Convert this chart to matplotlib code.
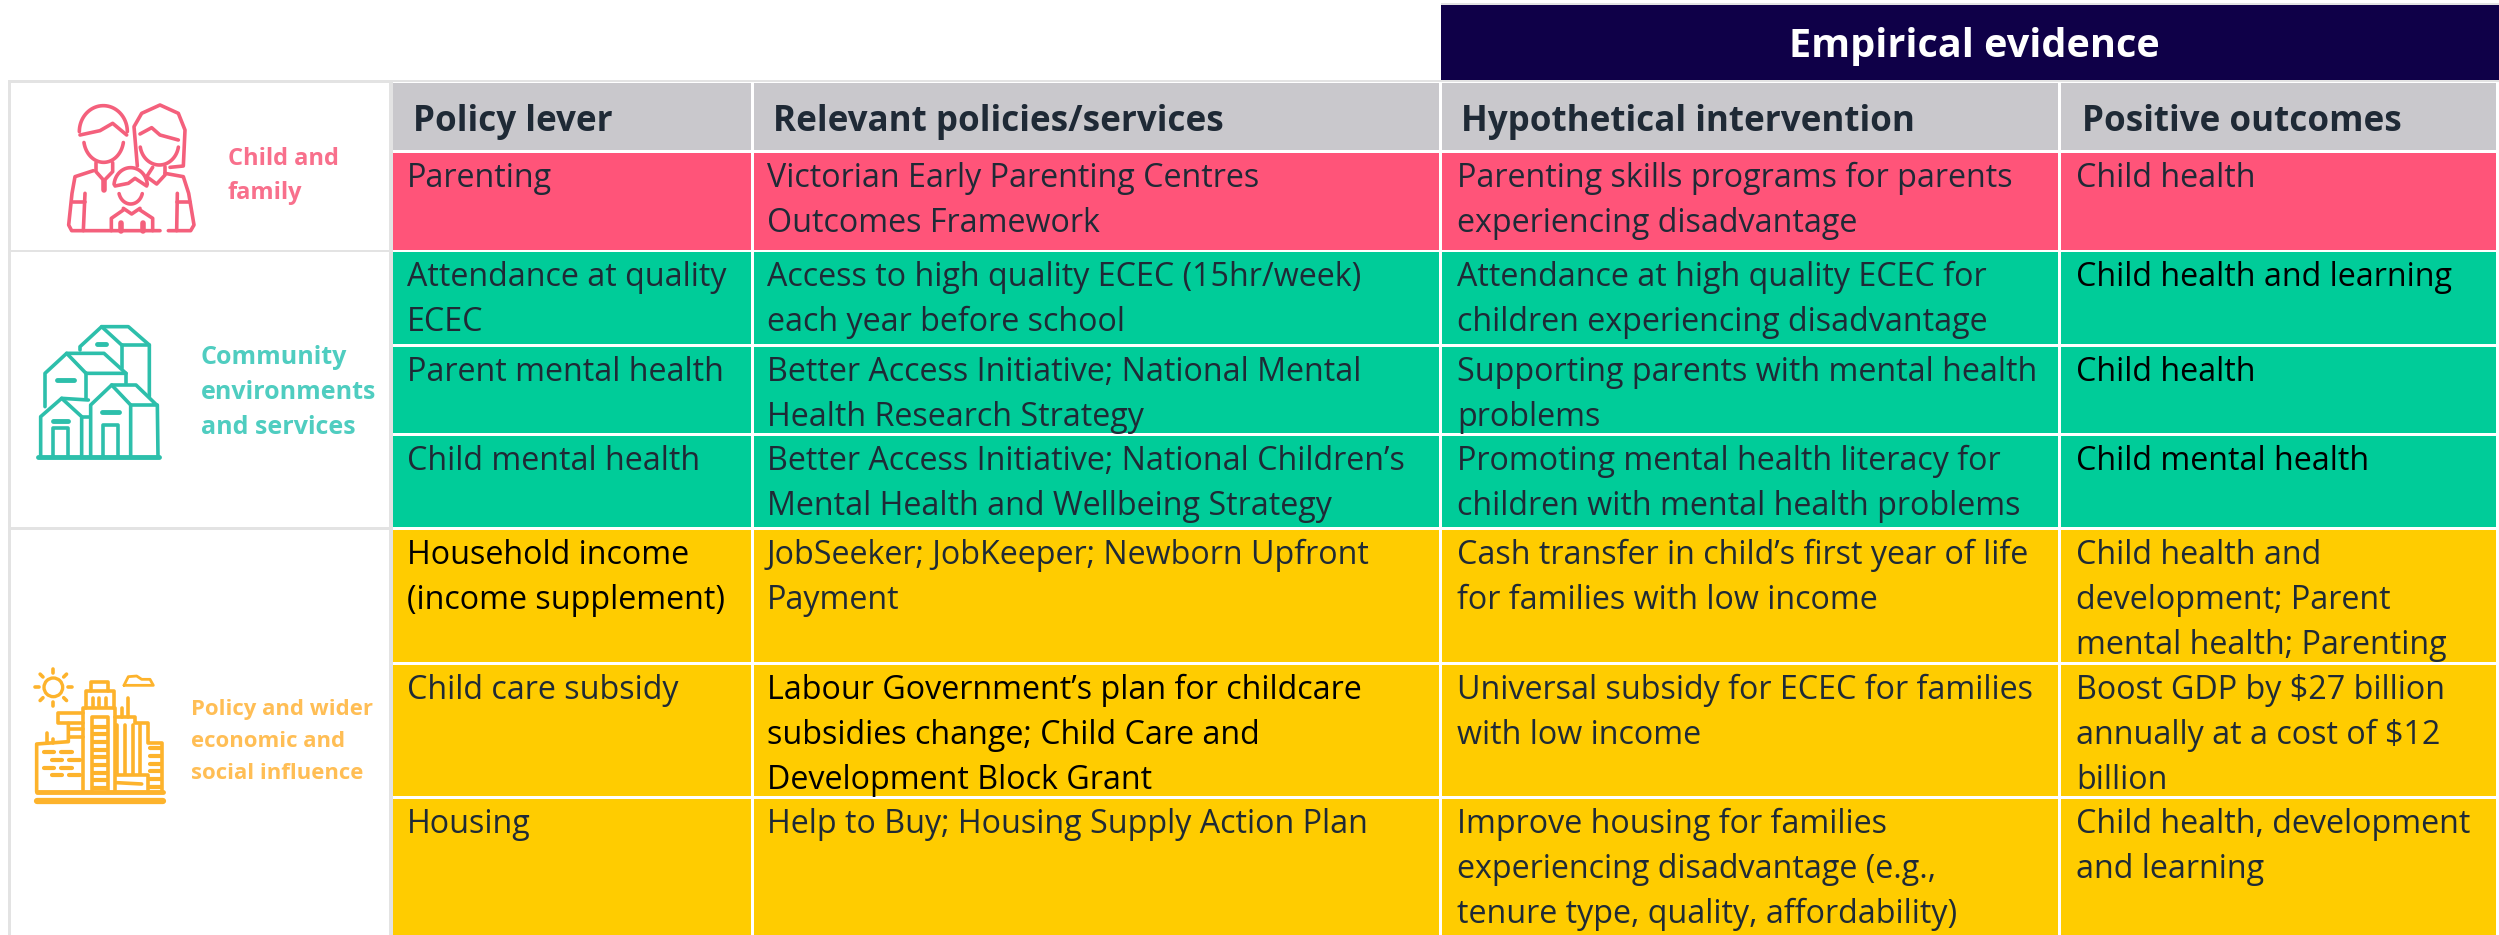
import numpy as np
import matplotlib
matplotlib.use('Agg')
import matplotlib.pyplot as plt
from matplotlib.patches import Rectangle, Ellipse

plt.rcParams['font.family'] = ['Open Sans', 'DejaVu Sans']

W, H = 2499, 935

# table content
top_title = 'Empirical evidence'
headers = ['Policy lever', 'Relevant policies/services', 'Hypothetical intervention', 'Positive outcomes']
levers = [['Parenting'],
          ['Attendance at quality', 'ECEC'],
          ['Parent mental health'],
          ['Child mental health'],
          ['Household income', '(income supplement)'],
          ['Child care subsidy'],
          ['Housing']]
policies = [['Victorian Early Parenting Centres', 'Outcomes Framework'],
            ['Access to high quality ECEC (15hr/week)', 'each year before school'],
            ['Better Access Initiative; National Mental', 'Health Research Strategy'],
            ['Better Access Initiative; National Children’s', 'Mental Health and Wellbeing Strategy'],
            ['JobSeeker; JobKeeper; Newborn Upfront', 'Payment'],
            ['Labour Government’s plan for childcare', 'subsidies change; Child Care and', 'Development Block Grant'],
            ['Help to Buy; Housing Supply Action Plan']]
interventions = [['Parenting skills programs for parents', 'experiencing disadvantage'],
                 ['Attendance at high quality ECEC for', 'children experiencing disadvantage'],
                 ['Supporting parents with mental health', 'problems'],
                 ['Promoting mental health literacy for', 'children with mental health problems'],
                 ['Cash transfer in child’s first year of life', 'for families with low income'],
                 ['Universal subsidy for ECEC for families', 'with low income'],
                 ['Improve housing for families', 'experiencing disadvantage (e.g.,', 'tenure type, quality, affordability)']]
outcomes = [['Child health'],
            ['Child health and learning'],
            ['Child health'],
            ['Child mental health'],
            ['Child health and', 'development; Parent', 'mental health; Parenting'],
            ['Boost GDP by $27 billion', 'annually at a cost of $12', 'billion'],
            ['Child health, development', 'and learning']]
columns = [levers, policies, interventions, outcomes]
row_groups = ['pink', 'green', 'green', 'green', 'yellow', 'yellow', 'yellow']
# cells written in pure black in the original: (column, row)
black_cells = [(0, 4), (1, 5), (3, 1), (3, 2), (3, 3)]

# layout in pixels
col_left = [393, 754, 1442, 2061, 2499]
row_top = [153, 252, 347, 436, 530, 665, 799]
row_bottom = [250, 344, 433, 527, 662, 796, 935]
text_x = [407, 767, 1457, 2076]
head_x = [413, 773, 1461, 2082]
line_h = 45

fill = {'pink': '#FF5479', 'green': '#00CC99', 'yellow': '#FFCC00'}
navy = '#0F0048'
grey = '#C9C8CC'
rule = '#E3E3E3'
ink = '#1F2A36'
fs = 23.2

fig = plt.figure(figsize=(W / 100, H / 100), dpi=100)
ax = fig.add_axes([0, 0, 1, 1])
ax.set_xlim(0, W)
ax.set_ylim(H, 0)
ax.axis('off')


def box(x0, y0, x1, y1, color):
    ax.add_patch(Rectangle((x0, y0), x1 - x0, y1 - y0, fc=color, ec='none', lw=0))


# left panel rules
box(8, 80, 393, 83, rule)
box(8, 80, 11, H, rule)
box(389, 80, 393, H, rule)
box(8, 250, 393, 252, rule)
box(8, 527, 393, 530, rule)

# title bar and header
box(1441, 5, W, 80, navy)
box(1441, 3, W, 5, rule)
box(393, 80, W, 82, rule)
ax.text((1441 + W) / 2 + 4, 46, top_title, color='white', fontsize=28.5, fontweight='bold',
        ha='center', va='center')
for i, h in enumerate(headers):
    box(col_left[i], 83, col_left[i + 1] - 3, 150, grey)
    ax.text(head_x[i], 131, h, color=ink, fontsize=25.2, fontweight='bold', va='baseline')

# body cells
for c, col in enumerate(columns):
    for r, lines in enumerate(col):
        box(col_left[c], row_top[r], col_left[c + 1] - 3, row_bottom[r], fill[row_groups[r]])
        color = 'black' if (c, r) in black_cells else ink
        for k, line in enumerate(lines):
            ax.text(text_x[c], row_top[r] + 34 + k * line_h, line, color=color, fontsize=fs, va='baseline')


# icons are traced in the coordinates of a 3x crop, so dy is the crop's top edge
def trace(points, color, dy, lw=2.6):
    pts = np.array(points, dtype=float)
    ax.plot(pts[:, 0] / 3, dy + pts[:, 1] / 3, color=color, lw=lw, solid_capstyle='round', solid_joinstyle='round')


def arc(cx, cy, rx, ry, a0, a1):
    t = np.radians(np.linspace(a0, a1, 40))
    return np.column_stack([cx + rx * np.cos(t), cy + ry * np.sin(t)])


def family_icon(color='#F4607C', dy=60):
    # father
    trace(arc(310, 215, 72, 78, 180, 360), color, dy)
    trace([(240, 225), (300, 212), (338, 190), (380, 225)], color, dy)
    trace(arc(311, 235, 60, 72, 10, 170), color, dy)
    trace([(288, 308), (288, 335), (312, 362), (338, 335), (338, 308)], color, dy)
    trace([(312, 362), (312, 390)], color, dy, lw=4)
    trace([(280, 332), (225, 350), (216, 400), (206, 495), (215, 512), (480, 512)], color, dy)
    trace([(255, 400), (250, 512)], color, dy)
    trace([(218, 425), (255, 425)], color, dy)
    # mother
    trace([(412, 318), (402, 200), (425, 160), (480, 135), (535, 160), (555, 210), (550, 318), (510, 322)], color, dy)
    trace([(420, 222), (455, 203), (480, 225), (535, 240)], color, dy)
    trace(arc(478, 250, 58, 65, 10, 170), color, dy)
    trace([(495, 320), (495, 345), (470, 372), (440, 350), (458, 322)], color, dy)
    trace([(495, 340), (550, 350), (566, 400), (582, 495), (572, 512), (505, 512)], color, dy)
    trace([(532, 400), (530, 512)], color, dy)
    trace([(532, 425), (570, 425)], color, dy)
    # child
    trace(arc(392, 378, 50, 55, 185, 355), color, dy)
    trace([(345, 378), (385, 370), (405, 355), (440, 378)], color, dy)
    trace(arc(392, 390, 36, 42, 15, 165), color, dy)
    trace([(370, 445), (395, 462), (420, 445)], color, dy)
    trace([(334, 512), (334, 475), (370, 450)], color, dy)
    trace([(458, 512), (458, 475), (420, 450)], color, dy)
    trace([(362, 490), (362, 512)], color, dy, lw=4)
    trace([(428, 490), (428, 512)], color, dy, lw=4)


def houses_icon(color='#2DBFAB', dy=250):
    trace([(240, 300), (240, 290), (305, 230), (385, 230), (448, 285), (448, 440)], color, dy)
    trace([(305, 230), (365, 285), (448, 285)], color, dy)
    trace([(365, 285), (365, 355)], color, dy)
    trace([(292, 283), (318, 283)], color, dy, lw=3.5)
    trace([(135, 470), (135, 370), (200, 310), (312, 310), (378, 370), (378, 400)], color, dy)
    trace([(200, 310), (258, 370), (378, 370)], color, dy)
    trace([(258, 370), (258, 445)], color, dy)
    trace([(172, 391), (222, 391)], color, dy, lw=3.5)
    trace([(122, 620), (122, 500), (185, 445), (245, 500), (245, 620)], color, dy)
    trace([(185, 445), (265, 450)], color, dy)
    trace([(245, 500), (270, 500)], color, dy)
    trace([(160, 512), (205, 512)], color, dy, lw=3.5)
    trace([(160, 620), (160, 535), (205, 535), (205, 620)], color, dy)
    trace([(272, 620), (272, 465), (335, 405), (392, 465), (392, 620)], color, dy)
    trace([(335, 405), (408, 405), (470, 465), (392, 465)], color, dy)
    trace([(472, 465), (474, 620)], color, dy)
    trace([(305, 487), (358, 487)], color, dy, lw=3.5)
    trace([(308, 620), (308, 525), (355, 525), (355, 620)], color, dy)
    trace([(114, 622), (478, 622)], color, dy, lw=3.5)


def city_icon(color='#FDB32C', dy=620):
    ax.add_patch(Ellipse((160 / 3, dy + 202 / 3), 56 / 3, 56 / 3, fc='none', ec=color, lw=2.4))
    for a in range(0, 360, 45):
        c, s = np.cos(np.radians(a)), np.sin(np.radians(a))
        trace([(160 + 44 * c, 202 + 44 * s), (160 + 56 * c, 202 + 56 * s)], color, dy, lw=2.6)
    trace([(372, 196), (385, 170), (410, 168), (425, 178), (450, 178), (460, 196), (372, 196)], color, dy, lw=2)
    # tower
    trace([(250, 510), (250, 265), (345, 265), (345, 510)], color, dy)
    trace([(258, 265), (258, 212), (342, 212), (342, 265)], color, dy)
    trace([(272, 212), (272, 185), (325, 185), (325, 212)], color, dy)
    for x in (278, 298, 318):
        trace([(x, 235), (x, 258)], color, dy)
    trace([(275, 510), (275, 292), (325, 292), (325, 510)], color, dy)
    for y in range(320, 510, 23):
        trace([(280, y), (320, y)], color, dy, lw=3)
    # left block
    trace([(250, 280), (175, 280), (175, 310), (250, 310)], color, dy)
    trace([(205, 310), (205, 365), (110, 372), (110, 515)], color, dy)
    trace([(208, 328), (248, 328)], color, dy)
    trace([(208, 350), (248, 350)], color, dy)
    trace([(142, 340), (142, 370)], color, dy)
    trace([(158, 358), (158, 370)], color, dy)
    for y, xs in [(397, [(132, 162), (182, 216)]), (420, [(156, 186), (208, 240)]),
                  (443, [(132, 162), (184, 216)]), (466, [(156, 186), (208, 240)])]:
        for x0, x1 in xs:
            trace([(x0, y), (x1, y)], color, dy, lw=3)
    # right block
    trace([(345, 290), (405, 290), (405, 308), (445, 308), (445, 370), (487, 370), (487, 515)], color, dy)
    trace([(366, 290), (366, 265)], color, dy)
    trace([(385, 290), (385, 235)], color, dy)
    for x in (352, 375, 398, 420):
        trace([(x, 315), (x, 462)], color, dy)
    trace([(350, 465), (445, 465), (445, 510)], color, dy)
    trace([(350, 488), (425, 492)], color, dy)
    for y in (385, 408, 431, 454, 477, 500):
        trace([(450, y), (482, y)], color, dy, lw=3)
    trace([(110, 515), (488, 515)], color, dy, lw=3.5)
    trace([(110, 543), (488, 543)], color, dy, lw=4.5)


family_icon()
houses_icon()
city_icon()

# labels beside the icons
ax.text(228, 165, 'Child and', color='#F8708C', fontsize=17, fontweight='bold', va='baseline')
ax.text(228, 199, 'family', color='#F8708C', fontsize=17, fontweight='bold', va='baseline')
for k, s in enumerate(['Community', 'environments', 'and services']):
    ax.text(201, 364 + k * 35, s, color='#4FCDC0', fontsize=18, fontweight='bold', va='baseline')
for k, s in enumerate(['Policy and wider', 'economic and', 'social influence']):
    ax.text(191, 715 + k * 32, s, color='#FFBE55', fontsize=15.9, fontweight='bold', va='baseline')

fig.savefig('out.png', dpi=100, facecolor='white')
